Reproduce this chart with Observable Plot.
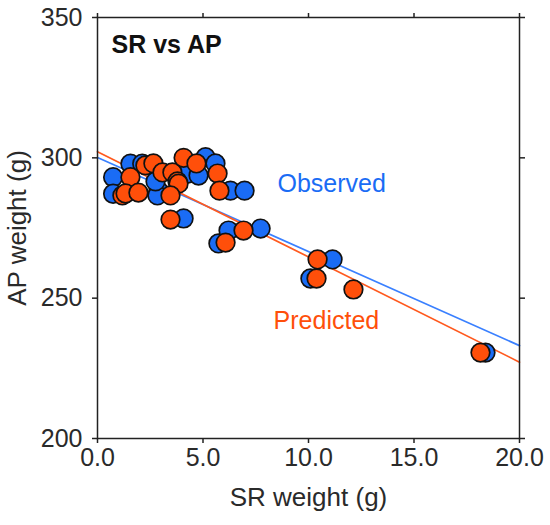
<!DOCTYPE html>
<html><head><meta charset="utf-8">
<script src="https://cdn.jsdelivr.net/npm/d3@7"></script>
<script src="https://cdn.jsdelivr.net/npm/@observablehq/plot@0.6"></script>
<style>body{margin:0;background:#fff}</style>
</head><body><div id="chart"></div>
<script>
// Observed (blue)
const obsSR = [0.74, 0.74, 1.56, 2.12, 2.89, 2.84, 2.75, 4.25, 5.12, 5.59, 4.79, 6.30, 6.97, 4.08, 5.73, 6.21, 7.73, 11.14, 10.09, 18.39];
const obsAP = [293.1, 287.2, 297.9, 297.9, 288.3, 286.6, 291.6, 294.3, 300.2, 298.0, 293.7, 288.3, 288.3, 278.4, 269.5, 274.1, 274.8, 263.8, 257.0, 230.6];
// Predicted (orange)
const predSR = [1.56, 1.18, 1.33, 1.94, 2.27, 2.65, 3.08, 3.55, 3.79, 3.84, 3.46, 4.08, 4.69, 5.69, 5.78, 3.46, 6.07, 6.92, 10.43, 10.38, 12.13, 18.15];
const predAP = [293.1, 286.6, 287.3, 287.6, 297.3, 298.0, 294.8, 294.8, 291.6, 290.8, 286.6, 300.0, 298.0, 294.4, 288.3, 278.0, 269.8, 274.1, 263.8, 257.0, 253.1, 230.6];
// Fit lines
const seriesNames = ["Observed", "Predicted"];
const seriesColors = ["#1a6cf5", "#ff4f0a"];
const lineColors = ["#3a80ff", "#ff5a1f"];
const fitIntercepts = [300.1, 302.2];
const fitSlopes = [-3.35, -3.75];
const xTicks = [0, 5, 10, 15, 20];
const yTicks = [200, 250, 300, 350];
const labelX = [11.1, 10.85];
const labelY = [290.5, 241.7];

const obs = obsSR.map((x, i) => ({x, y: obsAP[i]}));
const pred = predSR.map((x, i) => ({x, y: predAP[i]}));
const fits = [];
seriesNames.forEach((s, i) => {
  [0, 20].forEach(x => fits.push({s, x, y: fitIntercepts[i] + fitSlopes[i] * x}));
});
const labels = seriesNames.map((s, i) => ({s, x: labelX[i], y: labelY[i], c: seriesColors[i]}));

const font = "Liberation Sans, Arial, sans-serif";
const chart = Plot.plot({
  width: 550, height: 525,
  marginLeft: 97, marginRight: 31, marginTop: 17, marginBottom: 87,
  style: {fontFamily: font, fontSize: "25px", color: "#2a2a2a", background: "#fff"},
  x: {domain: [0, 20]},
  y: {domain: [200, 350]},
  marks: [
    Plot.line(fits, {x: "x", y: "y", z: "s", stroke: d => d.s === "Observed" ? lineColors[0] : lineColors[1], strokeWidth: 1.7}),
    Plot.dot(obs, {x: "x", y: "y", r: 9.3, fill: seriesColors[0], stroke: "#111", strokeWidth: 1.7}),
    Plot.dot(pred, {x: "x", y: "y", r: 9.3, fill: seriesColors[1], stroke: "#111", strokeWidth: 1.7}),
    Plot.text(labels, {x: "x", y: "y", text: "s", fill: "c", fontSize: 25, fontFamily: font}),
    Plot.frame({stroke: "#222", strokeWidth: 1.5}),
    Plot.axisX(xTicks, {anchor: "bottom", tickSize: 5, tickPadding: 5, tickFormat: d3.format(".1f"), fontSize: 25, label: null, stroke: "#222", strokeWidth: 1.5}),
    Plot.axisX(xTicks, {anchor: "top", tickSize: 5, tickFormat: () => "", label: null, stroke: "#222", strokeWidth: 1.5}),
    Plot.axisY(yTicks, {anchor: "left", tickSize: 5, tickPadding: 10, tickFormat: d3.format("d"), fontSize: 25, label: null, stroke: "#222", strokeWidth: 1.5}),
    Plot.axisY(yTicks, {anchor: "right", tickSize: 5, tickFormat: () => "", label: null, stroke: "#222", strokeWidth: 1.5}),
    Plot.text(["SR weight (g)"], {frameAnchor: "bottom", dy: 59, text: d => d, fontSize: 26, fontFamily: font, fill: "#2a2a2a", textAnchor: "middle", lineAnchor: "middle"}),
    Plot.text(["AP weight (g)"], {frameAnchor: "left", dx: -80, rotate: -90, text: d => d, fontSize: 26, fontFamily: font, fill: "#2a2a2a", textAnchor: "middle", lineAnchor: "middle"}),
    Plot.text(["SR vs AP"], {frameAnchor: "top-left", dx: 14, dy: 27, text: d => d, fontSize: 25, fontWeight: "bold", fontFamily: font, fill: "#111", textAnchor: "start", lineAnchor: "middle"})
  ]
});
document.getElementById("chart").appendChild(chart);
</script>
</body></html>
